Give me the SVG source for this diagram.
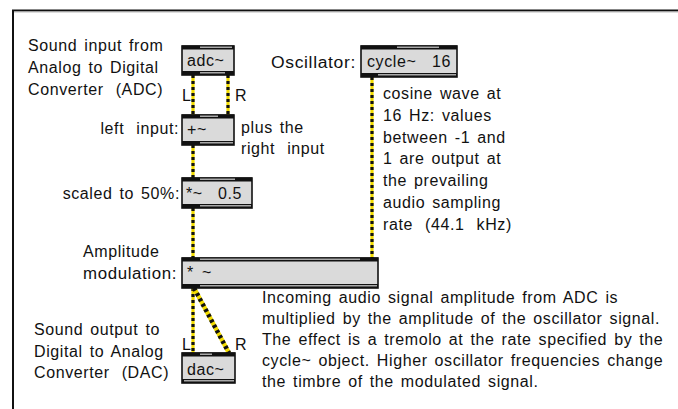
<svg xmlns="http://www.w3.org/2000/svg" width="678" height="409" viewBox="0 0 678 409">
<style>
text{font-family:"Liberation Sans",Arial,Helvetica,sans-serif;font-size:16px;fill:#111;letter-spacing:0.6px;word-spacing:2px}
.wide{word-spacing:7px}
.box{fill:#dadada;stroke:#111;stroke-width:1.6}
.bar{fill:#111}
.strip{fill:#a9a9a9}
.cy{fill:none;stroke:#f2dc00;stroke-width:3.2}
.ck{fill:none;stroke:#111;stroke-width:3.2;stroke-dasharray:3 3}
</style>
<rect x="0" y="0" width="678" height="409" fill="#fff"/>
<path d="M13 409 V10.5 H678" fill="none" stroke="#111" stroke-width="2"/>
<line x1="14" y1="12" x2="678" y2="12" stroke="#bbb" stroke-width="1"/>

<g id="connectors">
<line class="cy" x1="193" y1="75" x2="193" y2="115"/><line class="ck" x1="193" y1="75" x2="193" y2="115"/>
<line class="cy" x1="228" y1="75" x2="228" y2="115"/><line class="ck" x1="228" y1="75" x2="228" y2="115"/>
<line class="cy" x1="193" y1="145" x2="193" y2="178"/><line class="ck" x1="193" y1="145" x2="193" y2="178"/>
<line class="cy" x1="193" y1="208" x2="193" y2="258"/><line class="ck" x1="193" y1="208" x2="193" y2="258"/>
<line class="cy" x1="372" y1="77" x2="372" y2="258"/><line class="ck" x1="372" y1="77" x2="372" y2="258"/>
<line class="cy" x1="193" y1="288" x2="193" y2="353"/><line class="ck" x1="193" y1="288" x2="193" y2="353"/>
<line class="cy" x1="194" y1="288" x2="229" y2="353" style="stroke-width:4.5"/><line class="ck" x1="194" y1="288" x2="229" y2="353" style="stroke-width:4.5"/>
</g>

<g id="adc">
<rect class="box" x="182" y="46" width="52" height="29"/>
<rect class="bar" x="182" y="45.5" width="52" height="4"/>
<rect class="strip" x="200" y="46.5" width="32" height="1.5"/>
<rect class="bar" x="182" y="71" width="52" height="4"/>
<rect class="strip" x="200" y="72" width="25" height="1.5"/>
<text x="187" y="66">adc~</text>
</g>
<g id="plus">
<rect class="box" x="182" y="115" width="52" height="30"/>
<rect class="bar" x="182" y="114.5" width="52" height="4"/>
<rect class="strip" x="200" y="115.5" width="18" height="1.5"/>
<rect class="bar" x="182" y="141" width="52" height="4"/>
<rect class="strip" x="200" y="142" width="33" height="1.5"/>
<text x="187" y="135">+~</text>
</g>
<g id="scale">
<rect class="box" x="182" y="178" width="70" height="30"/>
<rect class="bar" x="182" y="177.5" width="70" height="4"/>
<rect class="strip" x="200" y="178.5" width="35" height="1.5"/>
<rect class="bar" x="182" y="204" width="70" height="4"/>
<rect class="strip" x="200" y="205" width="51" height="1.5"/>
<text x="186" y="199">*~<tspan x="218">0.5</tspan></text>
</g>
<g id="cycle">
<rect class="box" x="361" y="46" width="96" height="31"/>
<rect class="bar" x="361" y="45.5" width="96" height="4"/>
<rect class="strip" x="397" y="46.5" width="42" height="1.5"/>
<rect class="bar" x="361" y="73" width="96" height="4"/>
<rect class="strip" x="378" y="74" width="78" height="1.5"/>
<text x="367" y="67">cycle~<tspan x="432">16</tspan></text>
</g>
<g id="mult">
<rect class="box" x="182" y="258" width="196" height="30"/>
<rect class="bar" x="182" y="257.5" width="196" height="4"/>
<rect class="strip" x="200" y="258.5" width="160" height="1.5"/>
<rect class="bar" x="182" y="284" width="196" height="4"/>
<rect class="strip" x="200" y="285" width="177" height="1.5"/>
<text x="187" y="278">*<tspan x="202">~</tspan></text>
</g>
<g id="dac">
<rect class="box" x="182" y="353" width="53" height="30"/>
<rect class="bar" x="182" y="352.5" width="53" height="4"/>
<rect class="strip" x="200" y="353.5" width="12" height="1.5"/>
<rect class="bar" x="182" y="379" width="53" height="4"/>
<rect class="strip" x="184" y="380" width="50" height="1.5"/>
<text x="187" y="375">dac~</text>
</g>

<g id="labels">
<text x="28" y="51">Sound input from</text>
<text x="28" y="73">Analog to Digital</text>
<text x="28" y="95" class="wide">Converter (ADC)</text>
<text x="182" y="101">L</text>
<text x="235" y="101">R</text>
<text x="179" y="134" text-anchor="end" class="wide">left input:</text>
<text x="241" y="133">plus the</text>
<text x="241" y="154" class="wide">right input</text>
<text x="180" y="199" text-anchor="end">scaled to 50%:</text>
<text x="271" y="68" textLength="85" lengthAdjust="spacingAndGlyphs">Oscillator:</text>
<text x="383" y="99">cosine wave at</text>
<text x="383" y="121">16 Hz: values</text>
<text x="383" y="143">between -1 and</text>
<text x="383" y="164">1 are output at</text>
<text x="383" y="186">the prevailing</text>
<text x="383" y="208">audio sampling</text>
<text x="383" y="230" class="wide">rate (44.1 kHz)</text>
<text x="83" y="257">Amplitude</text>
<text x="83" y="279" textLength="94" lengthAdjust="spacingAndGlyphs">modulation:</text>
<text x="34" y="335">Sound output to</text>
<text x="34" y="357">Digital to Analog</text>
<text x="34" y="378" class="wide">Converter (DAC)</text>
<text x="182" y="350">L</text>
<text x="235" y="350">R</text>
<text x="262" y="303">Incoming audio signal amplitude from ADC is</text>
<text x="262" y="324">multiplied by the amplitude of the oscillator signal.</text>
<text x="262" y="345">The effect is a tremolo at the rate specified by the</text>
<text x="262" y="366">cycle~ object. Higher oscillator frequencies change</text>
<text x="262" y="387">the timbre of the modulated signal.</text>
</g>
</svg>
